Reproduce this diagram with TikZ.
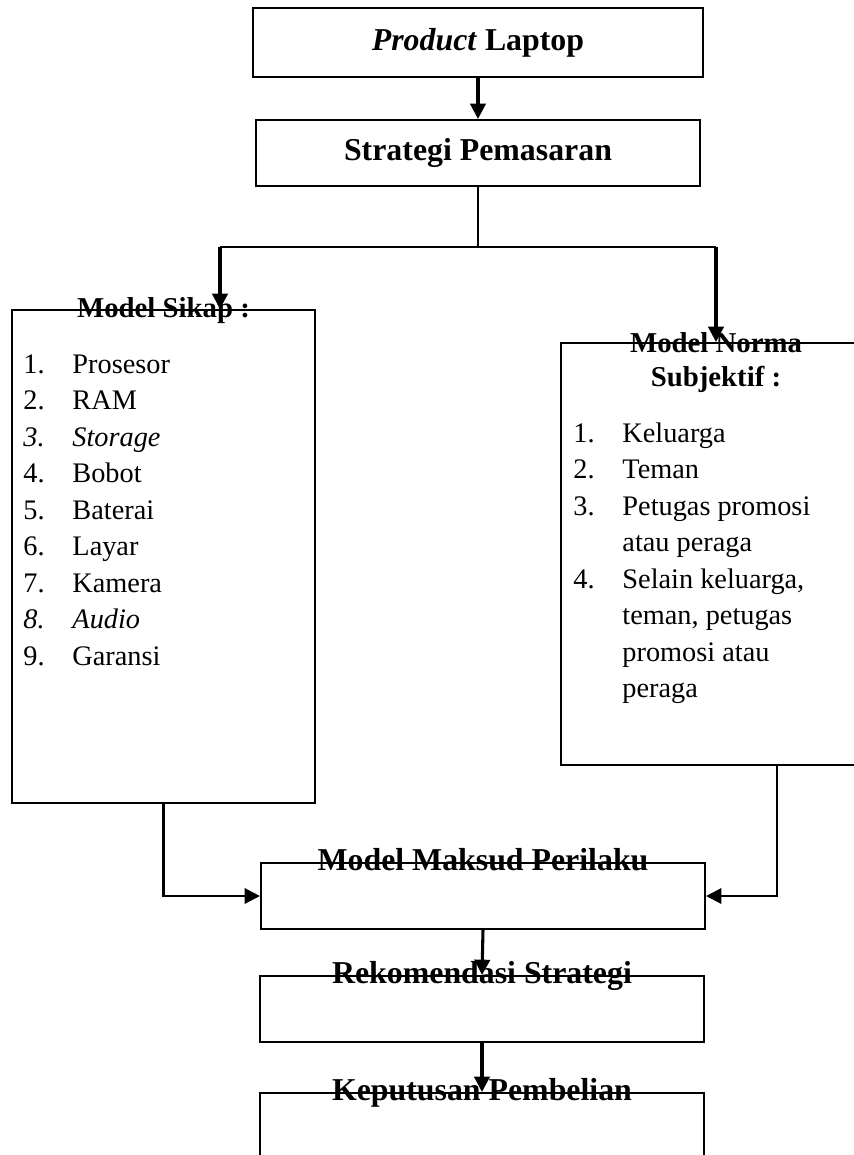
\documentclass[tikz,border=0pt]{standalone}
\usepackage{fontspec}
\setmainfont{Liberation Serif}
\usetikzlibrary{positioning,arrows.meta}

\tikzset{
  box/.style={draw, line width=0.85pt, inner sep=0pt},
  head/.style={font=\fontsize{13.5}{16}\selectfont\bfseries, inner sep=0pt},
  subhead/.style={font=\fontsize{12.2}{14.5}\selectfont\bfseries, inner sep=0pt, align=center},
  listtext/.style={font=\fontsize{12}{15.5}\selectfont, inner sep=0pt, anchor=base west},
  link/.style={line width=0.7pt},
  flow/.style={line width=1.3pt, -{Triangle[length=6.5pt,width=6.5pt]}},
  elbow/.style={line width=1pt, -{Triangle[length=6.5pt,width=6.5pt]}},
}

\begin{document}
\begin{tikzpicture}[x=0.424pt, y=-0.424pt]
  \useasboundingbox (0,0) rectangle (854,1155);
  \clip (0,0) rectangle (854,1155);

  % boxes
  \node[box, head, minimum width=191pt, minimum height=29.3pt] (prod) at (478,42.5) {\textit{Product} Laptop};
  \node[box, head, minimum width=188.3pt, minimum height=28pt] (strat) at (478,153) {Strategi Pemasaran};
  \node[box, minimum width=128.5pt, minimum height=209pt] (sikap) at (163.5,556.5) {};
  \node[box, minimum width=183.2pt, minimum height=178.9pt] (norma) at (777,554) {};
  \node[box, minimum width=188.3pt, minimum height=28pt] (maksud) at (483,896) {};
  \node[box, minimum width=188.3pt, minimum height=28pt] (rek) at (482,1009) {};
  \node[box, minimum width=188.3pt, minimum height=28pt] (kep) at (482,1126) {};

  % connectors
  \coordinate (split) at (478,247);
  \coordinate (lt) at (220,247);
  \coordinate (rt) at (716,247);
  \draw[flow] (prod.south) -- (strat.north);
  \draw[link] (strat) -- (split);
  \draw[line width=1pt] (lt) -- (rt);
  \draw[flow] (lt) -- (lt |- sikap.north);
  \draw[flow] (rt) -- (rt |- norma.north);
  \draw[elbow] (sikap.south) |- (maksud.west);
  \draw[elbow] (norma.south) |- (maksud.east);
  \draw[flow] (maksud.south) -- (rek.north);
  \draw[flow] (rek.south) -- (kep.north);

  % titles sitting on the top lines
  \node[subhead, anchor=mid, yshift=-1.3pt] (sikapT) at (sikap.north) {Model Sikap :};
  \node[subhead, anchor=north, yshift=4.3pt] (normaT) at (rt |- norma.north) {Model Norma\\Subjektif :};
  \node[head, anchor=mid, yshift=-1.3pt] (maksudT) at (maksud.north) {Model Maksud Perilaku};
  \node[head, anchor=mid, yshift=-1.3pt] (rekT) at (rek.north) {Rekomendasi Strategi};
  \node[head, anchor=mid, yshift=-1.3pt] (kepT) at (kep.north) {Keputusan Pembelian};

  % attribute list
  \foreach \num/\txt [count=\i] in {1./Prosesor, 2./RAM, \textit{3.}/\textit{Storage}, 4./Bobot,
      5./Baterai, 6./Layar, 7./Kamera, \textit{8.}/\textit{Audio}, 9./Garansi} {
    \node[listtext] (sn\i) at (23, 336.5+36.5*\i) {\num};
    \node[listtext] (st\i) at (72, 336.5+36.5*\i) {\txt};
  }

  % reference list
  \foreach \num/\row in {1./0, 2./1, 3./2, 4./4}
    \node[listtext] (nn\row) at (573, 442+36.5*\row) {\num};
  \foreach \txt [count=\i] in {Keluarga, Teman, Petugas promosi, atau peraga, {Selain keluarga,},
      {teman, petugas}, promosi atau, peraga}
    \node[listtext] (nt\i) at (622, 405.5+36.5*\i) {\txt};
\end{tikzpicture}
\end{document}
